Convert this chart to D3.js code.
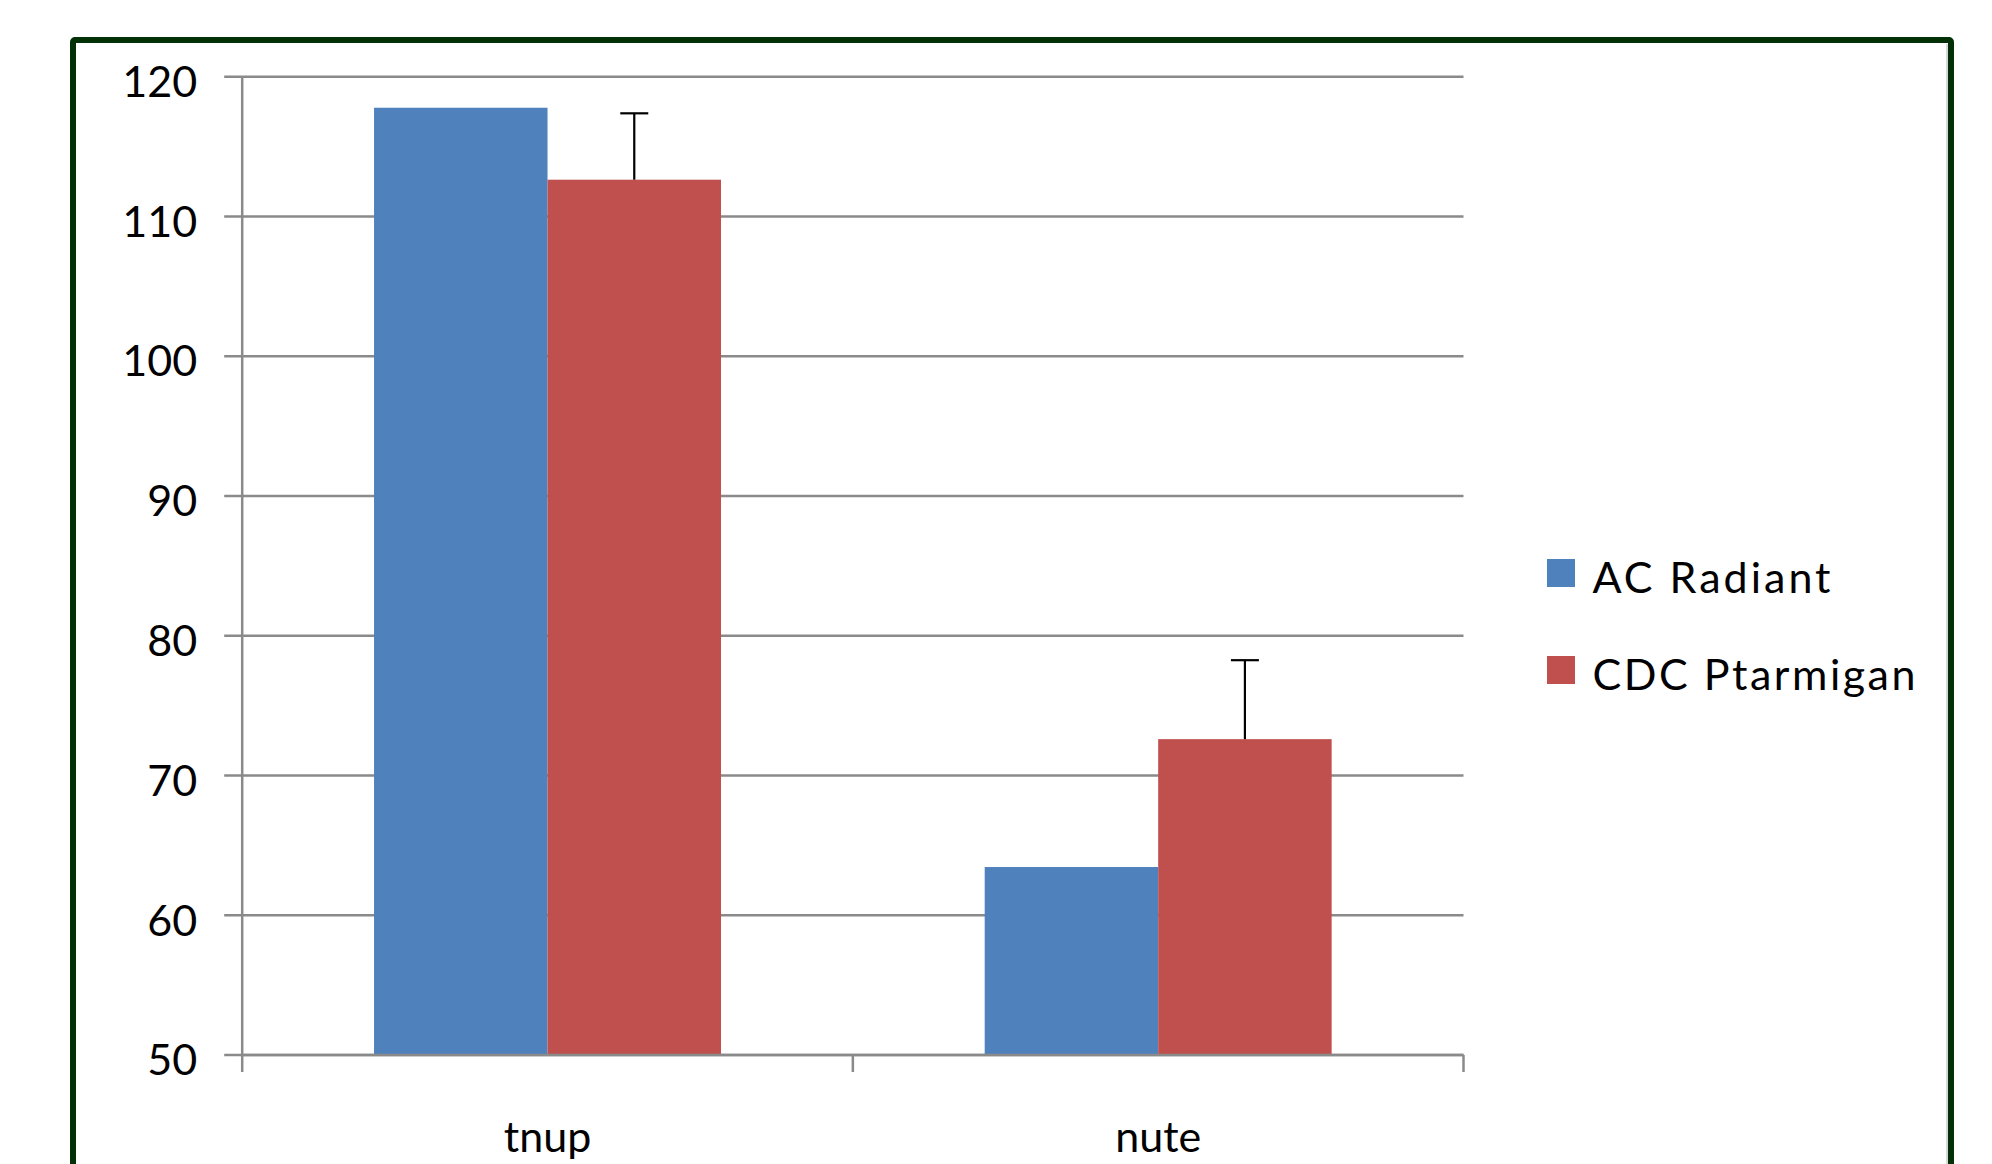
<html>
<head>
  <script src="https://d3js.org/d3.v7.min.js"></script>
  <meta charset="utf-8">
  <title>tnup / nute</title>
<style>
body {
  margin: 0;
  background: #fff;
}
svg {
  display: block;
  background: #fff;
}
text {
  font-family: Lato, "Open Sans", sans-serif;
  font-size: 43px;
  fill: #000;
}
</style>
</head>
<body>
<script>
var width = 1992,
    height = 1164;

// data
var categories = ['tnup', 'nute'];
var seriesNames = ['AC Radiant', 'CDC Ptarmigan'];
var seriesColors = ['#4F81BD', '#C0504D'];
var acRadiant = [117.78, 63.45];
var cdcPtarmigan = [112.63, 72.6];
var cdcError = [4.75, 5.65];
var yTicks = [50, 60, 70, 80, 90, 100, 110, 120];

// plot box
var plotLeft = 242.2, plotRight = 1463.5, plotTop = 76.7, plotBottom = 1055;

var svg = d3.select('body').append('svg')
  .attr('width', width)
  .attr('height', height);

// outer frame (runs past the bottom edge)
svg.append('rect')
  .attr('x', 73).attr('y', 40)
  .attr('width', 1951 - 73).attr('height', 1300)
  .attr('rx', 2)
  .style('fill', 'none')
  .style('stroke', '#033006')
  .style('stroke-width', 6);
svg.append('line')
  .attr('x1', 1947).attr('x2', 1947)
  .attr('y1', 44).attr('y2', 1164)
  .style('stroke', '#b0b0b0').style('stroke-width', 1);

var x = d3.scaleBand()
  .domain(categories)
  .range([plotLeft, plotRight]);

var xInner = d3.scaleBand()
  .domain(seriesNames)
  .range([0, x.bandwidth()])
  .paddingOuter(0.76);

var y = d3.scaleLinear()
  .domain([50, 120])
  .range([plotBottom, plotTop]);

// gridlines + left ticks
svg.append('g').selectAll('line')
  .data(yTicks)
  .enter().append('line')
  .attr('x1', plotLeft - 18)
  .attr('x2', plotRight)
  .attr('y1', function (d) { return y(d); })
  .attr('y2', function (d) { return y(d); })
  .style('stroke', '#8a8a8a')
  .style('stroke-width', 2.5);

// y axis labels
var yAxis = d3.axisLeft(y)
  .tickValues(yTicks)
  .tickSize(18)
  .tickPadding(27);
var gy = svg.append('g')
  .attr('transform', 'translate(' + plotLeft + ',0)')
  .call(yAxis);
gy.select('.domain').remove();
gy.selectAll('.tick line').remove();
gy.selectAll('.tick text')
  .attr('dy', '0.46em')
  .style('font-family', 'Lato, sans-serif')
  .style('font-size', '43px')
  .style('fill', '#000');

// vertical axis line
svg.append('line')
  .attr('x1', plotLeft).attr('x2', plotLeft)
  .attr('y1', plotTop).attr('y2', plotBottom)
  .style('stroke', '#8a8a8a').style('stroke-width', 2.5);

// bars
var rows = [];
categories.forEach(function (c, i) {
  rows.push({cat: c, s: seriesNames[0], v: acRadiant[i], color: seriesColors[0]});
  rows.push({cat: c, s: seriesNames[1], v: cdcPtarmigan[i], color: seriesColors[1], err: cdcError[i]});
});

svg.append('g').selectAll('rect')
  .data(rows)
  .enter().append('rect')
  .attr('x', function (d) { return x(d.cat) + xInner(d.s); })
  .attr('width', xInner.bandwidth())
  .attr('y', function (d) { return y(d.v); })
  .attr('height', function (d) { return y(50) - y(d.v); })
  .style('fill', function (d) { return d.color; });

// error bars (plus direction only)
var errRows = rows.filter(function (d) { return d.err; });
var eb = svg.append('g').selectAll('g')
  .data(errRows)
  .enter().append('g')
  .attr('transform', function (d) {
    return 'translate(' + (x(d.cat) + xInner(d.s) + xInner.bandwidth() / 2) + ',0)';
  });
eb.append('line')
  .attr('x1', 0).attr('x2', 0)
  .attr('y1', function (d) { return y(d.v); })
  .attr('y2', function (d) { return y(d.v + d.err); })
  .style('stroke', '#000').style('stroke-width', 2.2);
eb.append('line')
  .attr('x1', -14).attr('x2', 14)
  .attr('y1', function (d) { return y(d.v + d.err); })
  .attr('y2', function (d) { return y(d.v + d.err); })
  .style('stroke', '#000').style('stroke-width', 2.2);

// x axis
svg.append('line')
  .attr('x1', plotLeft).attr('x2', plotRight)
  .attr('y1', plotBottom).attr('y2', plotBottom)
  .style('stroke', '#8a8a8a').style('stroke-width', 2.5);

var xTickPos = categories.map(function (c) { return x(c); }).concat([plotRight]);
svg.append('g').selectAll('line')
  .data(xTickPos)
  .enter().append('line')
  .attr('x1', function (d) { return d; })
  .attr('x2', function (d) { return d; })
  .attr('y1', plotBottom)
  .attr('y2', plotBottom + 17)
  .style('stroke', '#8a8a8a').style('stroke-width', 2.5);

svg.append('g').selectAll('text')
  .data(categories)
  .enter().append('text')
  .attr('x', function (d) { return x(d) + x.bandwidth() / 2; })
  .attr('y', 1152)
  .attr('text-anchor', 'middle')
  .text(function (d) { return d; });

// legend
var legendW = [238, 323];
var legend = svg.append('g').selectAll('g')
  .data(seriesNames)
  .enter().append('g')
  .attr('transform', function (d, i) { return 'translate(1547,' + (559 + i * 97) + ')'; });
legend.append('rect')
  .attr('width', 28).attr('height', 28)
  .style('fill', function (d, i) { return seriesColors[i]; });
legend.append('text')
  .attr('x', 45.5)
  .attr('y', 34)
  .attr('textLength', function (d, i) { return legendW[i]; })
  .attr('lengthAdjust', 'spacing')
  .text(function (d) { return d; });

</script>
</body>
</html>
